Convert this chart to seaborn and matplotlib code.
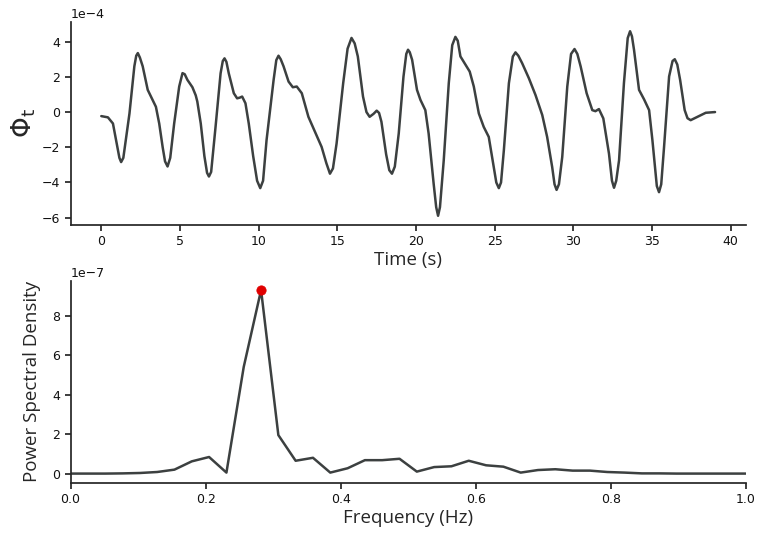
import numpy as np
import pandas as pd
import matplotlib
matplotlib.use("Agg")
import matplotlib.pyplot as plt
import seaborn as sns

# ---- data: time series (phi_t, units of 1e-4) ----
time_s = [0.0, 0.42, 0.74, 1.0, 1.15, 1.26, 1.4, 1.6, 1.79, 2.1, 2.22, 2.32, 2.45, 2.63, 2.95,
          3.26, 3.47, 3.68, 3.9, 4.05, 4.21, 4.38, 4.63, 4.95, 5.16, 5.3, 5.47, 5.79, 6.0, 6.1,
          6.32, 6.55, 6.72, 6.84, 6.98, 7.26, 7.58, 7.72, 7.83, 7.95, 8.1, 8.42, 8.63, 8.8, 8.95,
          9.16, 9.37, 9.65, 9.9, 10.1, 10.28, 10.5, 10.95, 11.12, 11.26, 11.4, 11.58, 11.9, 12.17,
          12.42, 12.74, 13.16, 13.58, 14.0, 14.3, 14.53, 14.72, 14.95, 15.37, 15.65, 15.9, 16.1,
          16.3, 16.63, 16.85, 17.05, 17.3, 17.5, 17.65, 17.8, 18.1, 18.3, 18.47, 18.65, 18.9, 19.2,
          19.38, 19.49, 19.6, 19.75, 20.06, 20.28, 20.59, 20.8, 21.12, 21.28, 21.4, 21.52, 21.76,
          22.08, 22.3, 22.5, 22.65, 22.82, 23.14, 23.41, 23.67, 23.99, 24.3, 24.62, 24.94, 25.1,
          25.26, 25.4, 25.58, 25.9, 26.15, 26.32, 26.5, 26.74, 27.17, 27.59, 28.02, 28.33, 28.65,
          28.8, 28.93, 29.08, 29.29, 29.61, 29.85, 30.07, 30.25, 30.46, 30.84, 31.2, 31.4, 31.62,
          31.9, 32.26, 32.45, 32.58, 32.72, 32.9, 33.21, 33.45, 33.6, 33.72, 33.85, 34.17, 34.49,
          34.81, 35.02, 35.3, 35.44, 35.58, 35.76, 36.08, 36.3, 36.44, 36.6, 36.78, 37.07, 37.25,
          37.45, 37.88, 38.41, 39.0]
phi_e4 = [-0.23, -0.3, -0.65, -1.9, -2.6, -2.84, -2.6, -1.3, -0.08, 2.6, 3.2, 3.35, 3.1, 2.6, 1.26,
          0.69, 0.3, -0.65, -2.0, -2.8, -3.09, -2.6, -0.65, 1.45, 2.21, 2.15, 1.83, 1.41, 0.95, 0.6,
          -0.65, -2.5, -3.45, -3.66, -3.4, -0.84, 2.2, 2.9, 3.05, 2.85, 2.2, 1.07, 0.78, 0.82, 0.88,
          0.5, -0.65, -2.5, -3.9, -4.32, -3.9, -1.6, 1.83, 2.95, 3.2, 3.0, 2.6, 1.73, 1.41,
          1.45, 1.07, -0.27, -1.12, -1.98, -2.9, -3.5, -3.2, -1.79, 1.64, 3.6, 4.21, 3.9,
          3.16, 0.88, 0.0, -0.27, -0.1, 0.08, -0.05, -0.55, -2.4, -3.3, -3.5, -3.1, -1.22, 2.0,
          3.3, 3.54, 3.4, 2.97, 1.26, 0.69, 0.11, -1.22, -4.08, -5.4, -5.89, -5.4, -2.74,
          1.64, 3.8, 4.27, 4.05, 3.16, 2.69, 2.3, 1.45, -0.08, -0.84, -1.41, -3.12, -4.0,
          -4.32, -4.0, -2.17, 1.64, 3.15, 3.39, 3.2, 2.78, 1.92, 0.97, -0.17, -1.41, -3.12,
          -4.1, -4.42, -4.1, -2.55, 1.45, 3.3, 3.58, 3.3, 2.59, 1.07, 0.11, 0.05, 0.17,
          -0.36, -2.36, -3.9, -4.3, -3.9, -2.74, 1.64, 4.2, 4.59, 4.3, 3.54, 1.26, 0.72,
          0.11, -1.6, -4.2, -4.55, -4.1, -1.98, 2.02, 2.9, 3.0, 2.7, 1.83, 0.11, -0.35,
          -0.46, -0.27, -0.04, 0.0]

# ---- data: power spectral density (units of 1e-7) ----
freq_hz = [0.0, 0.0256, 0.0513, 0.0769, 0.1026, 0.1282, 0.1538, 0.1795, 0.2051, 0.2308,
           0.2564, 0.2821, 0.3077, 0.3333, 0.3590, 0.3846, 0.4103, 0.4359, 0.4615, 0.4872,
           0.5128, 0.5385, 0.5641, 0.5897, 0.6154, 0.6410, 0.6667, 0.6923, 0.7179, 0.7436,
           0.7692, 0.7949, 0.8205, 0.8462, 0.8718, 0.8974, 0.9231, 0.9487, 0.9744, 1.0]
psd_e7 = [0.0, 0.0, 0.0, 0.01, 0.03, 0.08, 0.2, 0.62, 0.84, 0.05,
          5.4, 9.3, 1.95, 0.65, 0.8, 0.05, 0.27, 0.68, 0.68, 0.75,
          0.1, 0.33, 0.37, 0.65, 0.42, 0.35, 0.05, 0.18, 0.22, 0.15,
          0.15, 0.08, 0.05, 0.01, 0.01, 0.0, 0.0, 0.0, 0.0, 0.0]

ts = pd.DataFrame({"t": time_s, "phi": np.array(phi_e4) * 1e-4})
ps = pd.DataFrame({"f": freq_hz, "psd": np.array(psd_e7) * 1e-7})
peak = ps.loc[[ps["psd"].idxmax()]]

sns.set_theme(style="ticks")
plt.rcParams["font.family"] = ["DejaVu Sans"]
plt.rcParams["mathtext.fontset"] = "dejavusans"

line_col = "#3c4040"
fig = plt.figure(figsize=(7.76, 5.37), dpi=100)
ax1 = fig.add_axes([0.091, 0.581, 0.870, 0.378])
ax2 = fig.add_axes([0.091, 0.101, 0.870, 0.376])

sns.lineplot(data=ts, x="t", y="phi", ax=ax1, color=line_col, linewidth=1.8)
ax1.set_xticks([0, 5, 10, 15, 20, 25, 30, 35, 40])
ax1.set_yticks(np.array([-6, -4, -2, 0, 2, 4]) * 1e-4)
ax1.ticklabel_format(axis="y", style="sci", scilimits=(0, 0))
ax1.set_xlabel("Time (s)", fontsize=13.5, family=["Open Sans", "DejaVu Sans"], labelpad=2)
ax1.set_ylabel("Φ$_\\mathrm{t}$", fontsize=19, family=["DejaVu Sans"], labelpad=3)

sns.lineplot(data=ps, x="f", y="psd", ax=ax2, color=line_col, linewidth=1.8)
sns.scatterplot(data=peak, x="f", y="psd", ax=ax2, color="#e00000", s=45,
                edgecolor="#e00000", zorder=5)
ax2.set_xlim(0, 1)
ax2.set_xticks([0.0, 0.2, 0.4, 0.6, 0.8, 1.0])
ax2.set_yticks(np.array([0, 2, 4, 6, 8]) * 1e-7)
ax2.ticklabel_format(axis="y", style="sci", scilimits=(0, 0))
ax2.set_xlabel("Frequency (Hz)", fontsize=13.5, family=["Open Sans", "DejaVu Sans"], labelpad=2)
ax2.set_ylabel("Power Spectral Density", fontsize=13.5, family=["Open Sans", "DejaVu Sans"], labelpad=8)

for ax in (ax1, ax2):
    sns.despine(ax=ax)
    ax.tick_params(labelsize=9, length=4, color=".15", labelcolor="#111111")
    ax.yaxis.get_offset_text().set_fontsize(9)

fig.savefig("out.png", dpi=100)
